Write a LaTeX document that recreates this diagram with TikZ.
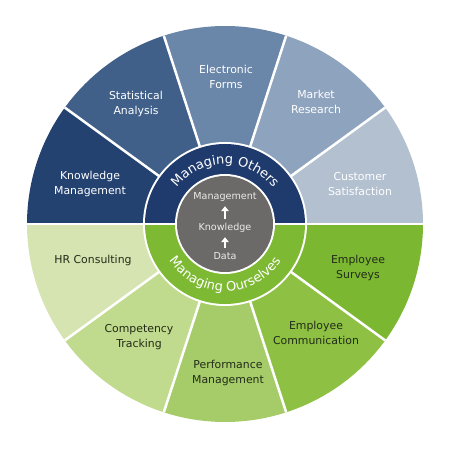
\documentclass[tikz,border=0pt]{standalone}
\usepackage{fontspec}
\setmainfont{DejaVu Sans}
\usetikzlibrary{decorations.text,arrows.meta}
\definecolor{km}{RGB}{36,66,112}
\definecolor{sa}{RGB}{64,96,138}
\definecolor{ef}{RGB}{106,134,168}
\definecolor{mr}{RGB}{142,163,190}
\definecolor{cs}{RGB}{178,192,208}
\definecolor{hr}{RGB}{214,228,178}
\definecolor{ct}{RGB}{192,218,142}
\definecolor{pm}{RGB}{166,204,106}
\definecolor{ec}{RGB}{141,192,67}
\definecolor{es}{RGB}{124,183,50}
\definecolor{ringblue}{RGB}{31,58,108}
\definecolor{ringgreen}{RGB}{125,185,50}
\definecolor{coregray}{RGB}{108,106,104}
\definecolor{txtgreen}{RGB}{34,44,24}
\definecolor{ctrtext}{RGB}{235,235,235}
\begin{document}
\begin{tikzpicture}[x=1pt,y=1pt,
  lbl/.style={align=center, font=\fontsize{10.9}{15}\selectfont, inner sep=0pt},
  bluelbl/.style={lbl, text=white},
  greenlbl/.style={lbl, text=txtgreen},
  ctr/.style={font=\fontsize{9.6}{11}\selectfont, text=ctrtext, inner sep=0pt, text height=7pt, text depth=2pt},
  uparr/.style={white, line width=2.2pt, -{Triangle[length=5pt,width=7.5pt]}, shorten <=4.5pt, shorten >=4.5pt},
  sepline/.style={white, line width=2.5pt}]
\useasboundingbox (-225,-226) rectangle (225,224);
\def\R{198}
\foreach \a/\c in {0/cs,36/mr,72/ef,108/sa,144/km,180/hr,216/ct,252/pm,288/ec,324/es}{
  \fill[\c] (0,0) -- (\a:\R) arc[start angle=\a, end angle=\a+36, radius=\R] -- cycle;
}
\foreach \a in {0,36,...,324}{
  \draw[sepline] (0,0) -- (\a:\R);
}
% ring
\fill[white] (0,0) circle[radius=82];
\fill[ringblue] (80,0) arc[start angle=0, end angle=180, radius=80] -- cycle;
\fill[ringgreen] (-80,0) arc[start angle=180, end angle=360, radius=80] -- cycle;
\draw[white, line width=2pt] (-80,0) -- (80,0);
\fill[white] (0,0) circle[radius=50];
\fill[coregray] (0,0) circle[radius=48];
% ring texts
\path[decorate, decoration={text along path, text align=center, text color=white,
  text={|\fontsize{13}{13}\selectfont|Managing Others}}]
  (165:60) arc[start angle=165, end angle=15, radius=60];
\path[decorate, decoration={text along path, text align=center, text color=white,
  text={|\fontsize{13}{13}\selectfont|Managing Ourselves}}]
  (195:67) arc[start angle=195, end angle=345, radius=67];
% sector labels
\node[bluelbl] (km) at (-135,40) {Knowledge\\Management};
\node[bluelbl] (sa) at (-89,120) {Statistical\\Analysis};
\node[bluelbl] (ef) at (1,147) {Electronic\\Forms};
\node[bluelbl] (mr) at (91,122) {Market\\Research};
\node[bluelbl] (cs) at (135,40) {Customer\\Satisfaction};
\node[greenlbl] (hr) at (-132,-36) {HR Consulting};
\node[greenlbl] (ct) at (-86,-113) {Competency\\Tracking};
\node[greenlbl] (pm) at (3,-149) {Performance\\Management};
\node[greenlbl] (ec) at (91,-109) {Employee\\Communication};
\node[greenlbl] (es) at (133,-44) {Employee\\Surveys};
% core
\node[ctr] (mgmt) at (0,27) {Management};
\node[ctr] (know) at (0,-4) {Knowledge};
\node[ctr] (data) at (0,-33) {Data};
\draw[uparr] (know.north) -- (mgmt.south);
\draw[uparr] (data.north) -- (know.south);
\end{tikzpicture}
\end{document}
